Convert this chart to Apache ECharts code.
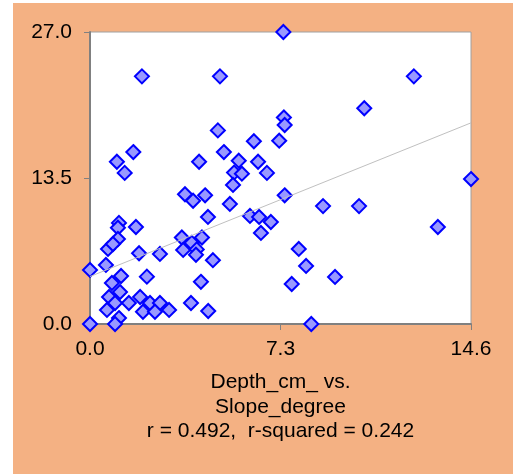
<!DOCTYPE html>
<html>
<head>
<meta charset="utf-8">
<script src="https://cdn.jsdelivr.net/npm/echarts@6/dist/echarts.min.js"></script>
<style>
  html, body { margin: 0; padding: 0; background: #ffffff; }
  #chart { position: absolute; left: 13px; top: 3px; width: 500px; height: 471px; }
</style>
</head>
<body>
<div id="chart"></div>
<script>
// Slope (degrees) on x, depth (cm) on y
const slopeDegree = [
  7.41, 1.99, 4.98, 12.41, 10.51, 7.43, 7.46, 7.25, 4.90, 6.28,
  5.13, 4.18, 5.70, 6.44, 6.78, 5.52, 5.82, 5.48, 3.64, 3.95,
  4.41, 5.36, 7.46, 8.93, 10.31, 13.33, 14.60, 8.00, 8.28, 7.73,
  9.39, 8.48, 6.93, 6.13, 6.48, 6.55, 4.52, 3.52, 4.29, 3.90,
  3.57, 4.09, 4.06, 4.71, 4.25, 3.87, 4.53, 1.66, 1.03, 1.33,
  1.11, 1.07, 1.76, 1.07, 0.69, 0.88, 1.88, 2.68, 0.61, 0.00,
  2.18, 1.19, 0.84, 1.15, 0.73, 0.96, 1.49, 1.92, 2.30, 2.68,
  3.03, 0.65, 1.11, 0.00, 0.96, 2.03, 2.49
];
const depthCm = [
  27.0, 22.9, 22.9, 22.9, 19.95, 19.1, 18.4, 16.95, 17.9, 16.9,
  15.9, 15.0, 15.1, 15.0, 13.97, 14.0, 13.9, 12.86, 12.0, 11.4,
  11.9, 11.1, 11.9, 10.9, 10.9, 8.97, 13.4, 6.94, 5.37, 3.7,
  4.35, 0.0, 9.43, 9.99, 9.9, 8.42, 9.9, 8.0, 8.0, 7.5,
  6.85, 6.9, 6.4, 5.9, 3.9, 1.94, 1.2, 15.9, 15.0, 13.97,
  9.35, 8.9, 8.97, 7.86, 6.94, 7.4, 6.54, 6.48, 5.46, 5.0,
  4.38, 4.44, 3.79, 2.96, 2.5, 1.94, 1.94, 2.5, 1.94, 1.94,
  1.3, 1.3, 0.55, 0.0, 0.0, 1.13, 1.13
];

// Least-squares trend line end points
const trendX = [0, 14.6];
const trendY = [4.39, 18.6];

const xTicks = [0, 7.3, 14.6];
const yTicks = [0, 13.5, 27.0];

const titleLines = ['Depth_cm_ vs.', 'Slope_degree', 'r = 0.492,  r-squared = 0.242'];

const FONT = "'Liberation Sans', Arial, sans-serif";

const points = slopeDegree.map((x, i) => [x, depthCm[i]]);
const trend = trendX.map((x, i) => [x, trendY[i]]);

const chart = echarts.init(document.getElementById('chart'), null, { renderer: 'canvas' });

chart.setOption({
  animation: false,
  backgroundColor: '#F4B183',
  title: {
    text: titleLines.join('\n'),
    left: 267.5,
    top: 367,
    textAlign: 'center',
    padding: 0,
    textStyle: {
      fontFamily: FONT,
      fontSize: 21,
      fontWeight: 'normal',
      color: '#000000',
      lineHeight: 24.5
    }
  },
  grid: {
    left: 77,
    top: 29,
    right: 42,
    bottom: 150,
    show: true,
    backgroundColor: '#ffffff',
    borderColor: '#a0a0a0',
    borderWidth: 1
  },
  xAxis: {
    type: 'value',
    min: xTicks[0],
    max: xTicks[xTicks.length - 1],
    interval: xTicks[1] - xTicks[0],
    splitLine: { show: false },
    axisLine: { show: true, lineStyle: { color: '#808080', width: 2 } },
    axisTick: { show: true, length: 6, lineStyle: { color: '#808080', width: 1 } },
    axisLabel: {
      margin: 15,
      fontFamily: FONT,
      fontSize: 21,
      color: '#000000',
      formatter: v => v.toFixed(1)
    }
  },
  yAxis: {
    type: 'value',
    min: yTicks[0],
    max: yTicks[yTicks.length - 1],
    interval: yTicks[1] - yTicks[0],
    splitLine: { show: false },
    axisLine: { show: true, lineStyle: { color: '#808080', width: 2 } },
    axisTick: { show: true, length: 6, lineStyle: { color: '#808080', width: 1 } },
    axisLabel: {
      margin: 18,
      fontFamily: FONT,
      fontSize: 21,
      color: '#000000',
      formatter: v => v.toFixed(1)
    }
  },
  series: [
    {
      type: 'scatter',
      data: points,
      symbol: 'diamond',
      symbolSize: 14,
      clip: false,
      z: 2,
      itemStyle: {
        color: '#9999FF',
        borderColor: '#0000FF',
        borderWidth: 2,
        opacity: 1
      }
    },
    {
      type: 'line',
      data: trend,
      symbol: 'none',
      silent: true,
      z: 3,
      lineStyle: { color: '#c0c0c0', width: 1 }
    }
  ]
});
</script>
</body>
</html>
